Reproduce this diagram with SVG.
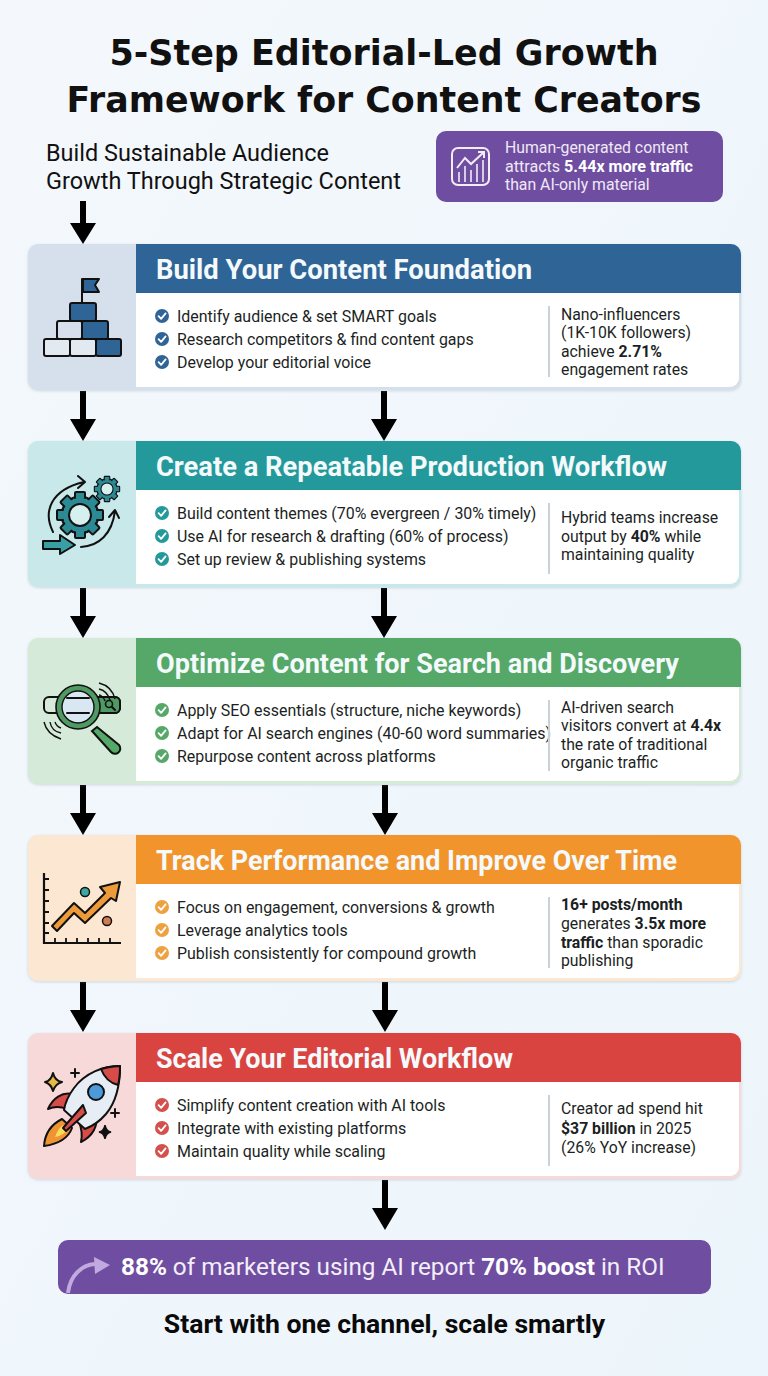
<svg xmlns="http://www.w3.org/2000/svg" width="768" height="1376" viewBox="0 0 768 1376">
<style>
text{font-family:Roboto,"Liberation Sans",sans-serif;fill:#1c1f24}
.title{font-family:"DejaVu Sans",sans-serif;font-weight:700;font-size:35px;fill:#111;text-anchor:middle}
.sub{font-size:24px;fill:#111}
.head{font-size:27.5px;font-weight:700;fill:#f4f9fb}
.b{font-size:15.95px}
.s{font-size:15.8px}
.bd{font-weight:700}
.pw{font-size:15.8px;fill:#f0e8f6}
.ln{fill:none;stroke:#111;stroke-width:2;stroke-linejoin:round;stroke-linecap:round}
.div{stroke:#c9d2d8;stroke-width:2}
.ck{fill:none;stroke:#fff;stroke-width:1.8;stroke-linecap:round;stroke-linejoin:round}
</style>
<defs>
<linearGradient id="bg" x1="0" y1="0" x2="1" y2="1"><stop offset="0" stop-color="#f4f8fc"/><stop offset="1" stop-color="#ecf5fb"/></linearGradient>
<path id="arrow" d="M-3 0H3V28H13L0 50L-13 28H-3Z" fill="#000"/>
<g id="check"><path class="ck" d="M-3.4 0.2L-0.9 2.8L3.6 -2.6"/></g>
<g id="tooth"><rect x="-5" y="-23" width="10" height="8" rx="1" fill="#2b8a94" stroke="#111" stroke-width="2"/></g>
<g id="gear">
<circle r="18.500" fill="#2b8a94" stroke="#111" stroke-width="2"/>
<use href="#tooth"/><use href="#tooth" transform="rotate(45)"/><use href="#tooth" transform="rotate(90)"/><use href="#tooth" transform="rotate(135)"/><use href="#tooth" transform="rotate(180)"/><use href="#tooth" transform="rotate(225)"/><use href="#tooth" transform="rotate(270)"/><use href="#tooth" transform="rotate(315)"/>
<circle r="17" fill="#2b8a94"/>
<circle r="11" fill="#d6efef" stroke="#111" stroke-width="2"/>
</g>
<filter id="sh" x="-3%" y="-5%" width="106%" height="112%"><feDropShadow dx="0" dy="1" stdDeviation="1.5" flood-color="#8a9aa8" flood-opacity=".35"/></filter>
</defs>
<rect width="768" height="1376" fill="url(#bg)"/>
<g id="title"><text class="title" x="384" y="65" textLength="549" lengthAdjust="spacingAndGlyphs">5-Step Editorial-Led Growth</text><text class="title" x="384" y="112" textLength="635" lengthAdjust="spacingAndGlyphs">Framework for Content Creators</text></g>
<g id="subtitle"><text class="sub" x="46" y="161" textLength="283" lengthAdjust="spacingAndGlyphs">Build Sustainable Audience</text><text class="sub" x="46" y="189" textLength="355" lengthAdjust="spacingAndGlyphs">Growth Through Strategic Content</text></g>
<g id="stat-callout">
<rect x="436" y="131" width="287" height="71" rx="10" fill="#6f4ea1"/>
<rect x="452" y="148" width="37" height="37" rx="6" fill="none" stroke="#f2ecf7" stroke-width="2"/>
<path d="M457 168L465 158L471 164L484 152M478 152H484V158" fill="none" stroke="#f2ecf7" stroke-width="2"/>
<path d="M459 182V172M465 182V166M471 182V170M477 182V164M483 182V160" fill="none" stroke="#f2ecf7" stroke-width="1.6"/>
<text class="pw" x="505" y="153" font-size="16">Human-generated content</text>
<text class="pw" x="505" y="172" textLength="188" lengthAdjust="spacingAndGlyphs">attracts <tspan class="bd" fill="#fff">5.44x more traffic</tspan></text>
<text class="pw" x="505" y="190">than AI-only material</text>
</g>
<g id="connectors">
<path d="M80 201H86V223H96L83 244L70 223H80Z" fill="#000"/>
<use href="#arrow" x="83" y="391"/><use href="#arrow" x="384" y="391"/>
<use href="#arrow" x="83" y="588"/><use href="#arrow" x="384" y="588"/>
<use href="#arrow" x="83" y="785"/><use href="#arrow" x="385" y="785"/>
<use href="#arrow" x="83" y="982"/><use href="#arrow" x="385" y="982"/>
<use href="#arrow" x="385" y="1180"/>
</g>

<g id="step1">
<rect x="28" y="244" width="713" height="146" rx="10" fill="#d6e0ec" filter="url(#sh)"/>
<path d="M136 293H739V378a9 9 0 0 1-9 9H136Z" fill="#fff"/>
<path d="M136 244H731a10 10 0 0 1 10 10V293H136Z" fill="#2f6496"/>
<text class="head" x="156" y="279" textLength="376" lengthAdjust="spacingAndGlyphs">Build Your Content Foundation</text>
<g fill="#2f6496"><circle cx="162" cy="316" r="7"/><circle cx="162" cy="339" r="7"/><circle cx="162" cy="362" r="7"/></g>
<use href="#check" x="162" y="316"/><use href="#check" x="162" y="339"/><use href="#check" x="162" y="362"/>
<text class="b" x="177" y="322">Identify audience &amp; set SMART goals</text>
<text class="b" x="177" y="345">Research competitors &amp; find content gaps</text>
<text class="b" x="177" y="368">Develop your editorial voice</text>
<line class="div" x1="549" y1="306" x2="549" y2="377"/>
<text class="s" x="561" y="320">Nano-influencers</text><text class="s" x="561" y="338">(1K-10K followers)</text>
<text class="s" x="561" y="357">achieve <tspan class="bd">2.71%</tspan></text><text class="s" x="561" y="375">engagement rates</text>
<g id="icon1">
<path class="ln" d="M82 303V279"/><path d="M83 279H99L95 285L99 292H83Z" fill="#2f6496" stroke="#111" stroke-width="2" stroke-linejoin="round"/>
<rect x="70" y="303" width="26" height="18" rx="2" fill="#2f6496" stroke="#111" stroke-width="2"/>
<rect x="57" y="321" width="25" height="18" rx="2" fill="#d5e0ec" stroke="#111" stroke-width="2"/>
<rect x="82" y="321" width="26" height="18" rx="2" fill="#2f6496" stroke="#111" stroke-width="2"/>
<rect x="44" y="339" width="26" height="17" rx="2" fill="#e2e9f1" stroke="#111" stroke-width="2"/>
<rect x="70" y="339" width="26" height="17" rx="2" fill="#e2e9f1" stroke="#111" stroke-width="2"/>
<rect x="96" y="339" width="25" height="17" rx="2" fill="#2f6496" stroke="#111" stroke-width="2"/>
</g>
</g>

<g id="step2">
<rect x="28" y="441" width="713" height="146" rx="10" fill="#c8e8ea" filter="url(#sh)"/>
<path d="M136 490H739V575a9 9 0 0 1-9 9H136Z" fill="#fff"/>
<path d="M136 441H731a10 10 0 0 1 10 10V490H136Z" fill="#24999b"/>
<text class="head" x="156" y="476" textLength="511" lengthAdjust="spacingAndGlyphs">Create a Repeatable Production Workflow</text>
<g fill="#24999b"><circle cx="162" cy="513" r="7"/><circle cx="162" cy="536" r="7"/><circle cx="162" cy="559" r="7"/></g>
<use href="#check" x="162" y="513"/><use href="#check" x="162" y="536"/><use href="#check" x="162" y="559"/>
<text class="b" x="177" y="519">Build content themes (70% evergreen / 30% timely)</text>
<text class="b" x="177" y="542">Use AI for research &amp; drafting (60% of process)</text>
<text class="b" x="177" y="565">Set up review &amp; publishing systems</text>
<line class="div" x1="549" y1="503" x2="549" y2="574"/>
<text class="s" x="561" y="523">Hybrid teams increase</text><text class="s" x="561" y="542">output by <tspan class="bd">40%</tspan> while</text><text class="s" x="561" y="560">maintaining quality</text>
<g id="icon2">
<use href="#gear" transform="translate(80 515)"/>
<use href="#gear" transform="translate(107 489) scale(.55)"/>
<path class="ln" d="M53 532C43 512 50 490 84 482M78 476L85 482L78 488"/>
<path class="ln" d="M81 547C99 546 112 534 115 511M109 517L115 510L119 518"/>
<path d="M43 541H60V535L75 545L60 554V549H43Z" fill="#3a9fa4" stroke="#111" stroke-width="2" stroke-linejoin="round"/>
</g>
</g>

<g id="step3">
<rect x="28" y="638" width="713" height="146" rx="10" fill="#d5ead8" filter="url(#sh)"/>
<path d="M136 687H739V772a9 9 0 0 1-9 9H136Z" fill="#fff"/>
<path d="M136 638H731a10 10 0 0 1 10 10V687H136Z" fill="#55a868"/>
<text class="head" x="156" y="673" textLength="523" lengthAdjust="spacingAndGlyphs">Optimize Content for Search and Discovery</text>
<g fill="#55a868"><circle cx="162" cy="710" r="7"/><circle cx="162" cy="733" r="7"/><circle cx="162" cy="756" r="7"/></g>
<use href="#check" x="162" y="710"/><use href="#check" x="162" y="733"/><use href="#check" x="162" y="756"/>
<text class="b" x="177" y="716">Apply SEO essentials (structure, niche keywords)</text>
<text class="b" x="177" y="739" textLength="374" lengthAdjust="spacingAndGlyphs">Adapt for AI search engines (40-60 word summaries)</text>
<text class="b" x="177" y="762">Repurpose content across platforms</text>
<line class="div" x1="549" y1="700" x2="549" y2="771"/>
<text class="s" x="561" y="713">AI-driven search</text><text class="s" x="561" y="731">visitors convert at <tspan class="bd">4.4x</tspan></text><text class="s" x="561" y="750">the rate of traditional</text><text class="s" x="561" y="768">organic traffic</text>
<g id="icon3">
<rect x="44" y="697" width="76" height="16" rx="5" fill="#d5ead8" stroke="#111" stroke-width="2"/>
<path d="M96 697H115a5 5 0 0 1 5 5V708a5 5 0 0 1-5 5H96Z" fill="#4f9a62" stroke="#111" stroke-width="2"/>
<circle cx="109" cy="704" r="3.500" fill="none" stroke="#111" stroke-width="1.600"/><path class="ln" d="M112 707L115 710"/>
<path d="M97 727L119 745a5 5 0 0 1-8 7L92 731Z" fill="#55a868" stroke="#111" stroke-width="2"/>
<circle cx="78" cy="707" r="19" fill="#d8e7f2" stroke="#4f9a62" stroke-width="6"/>
<circle cx="78" cy="707" r="22" fill="none" stroke="#111" stroke-width="1.600"/>
<circle cx="78" cy="707" r="16" fill="none" stroke="#111" stroke-width="1.400"/>
<path class="ln" d="M67 698H89M67 713H89"/>
<path d="M99 683C107 685 113 691 115 699M99 689C104 690 108 694 110 700M99 695C101 695 104 698 105 701" fill="none" stroke="#111" stroke-width="1.400"/>
<path d="M44 722C46 731 52 736 61 739M50 722C51 728 55 732 61 733M55 722C56 725 58 727 61 728" fill="none" stroke="#111" stroke-width="1.400"/>
</g>
</g>

<g id="step4">
<rect x="28" y="835" width="713" height="146" rx="10" fill="#fbe7d2" filter="url(#sh)"/>
<path d="M136 884H739V969a9 9 0 0 1-9 9H136Z" fill="#fff"/>
<path d="M136 835H731a10 10 0 0 1 10 10V884H136Z" fill="#f2942c"/>
<text class="head" x="156" y="870" textLength="521" lengthAdjust="spacingAndGlyphs">Track Performance and Improve Over Time</text>
<g fill="#eea13f"><circle cx="162" cy="907" r="7"/><circle cx="162" cy="930" r="7"/><circle cx="162" cy="953" r="7"/></g>
<use href="#check" x="162" y="907"/><use href="#check" x="162" y="930"/><use href="#check" x="162" y="953"/>
<text class="b" x="177" y="913">Focus on engagement, conversions &amp; growth</text>
<text class="b" x="177" y="936">Leverage analytics tools</text>
<text class="b" x="177" y="959">Publish consistently for compound growth</text>
<line class="div" x1="549" y1="897" x2="549" y2="968"/>
<text class="s" x="561" y="910"><tspan class="bd">16+ posts/month</tspan></text><text class="s" x="561" y="929">generates <tspan class="bd">3.5x more</tspan></text><text class="s" x="561" y="948"><tspan class="bd">traffic</tspan> than sporadic</text><text class="s" x="561" y="966">publishing</text>
<g id="icon4">
<path d="M44 873V943H121" fill="none" stroke="#111" stroke-width="2.200"/>
<path d="M44 879H49M44 890H49M44 901H49M44 912H49M44 923H49M44 933H49M55 943V938M66 943V938M77 943V938M88 943V938M99 943V938M110 943V938" stroke="#111" stroke-width="1.800"/>
<path d="M52 926L74 903L85 913L105 893L100 887L120 882L116 901L111 898L85 923L74 913L57 931Z" fill="#ed9a3a" stroke="#111" stroke-width="2" stroke-linejoin="round"/>
<circle cx="85" cy="892" r="4.500" fill="#3aa7a3" stroke="#111" stroke-width="1.500"/>
<circle cx="107" cy="921" r="4.500" fill="#d07c52" stroke="#111" stroke-width="1.500"/>
</g>
</g>

<g id="step5">
<rect x="28" y="1033" width="713" height="146" rx="10" fill="#f6d9d8" filter="url(#sh)"/>
<path d="M136 1082H739V1167a9 9 0 0 1-9 9H136Z" fill="#fff"/>
<path d="M136 1033H731a10 10 0 0 1 10 10V1082H136Z" fill="#d94441"/>
<text class="head" x="156" y="1068" textLength="357" lengthAdjust="spacingAndGlyphs">Scale Your Editorial Workflow</text>
<g fill="#d4504c"><circle cx="162" cy="1105" r="7"/><circle cx="162" cy="1128" r="7"/><circle cx="162" cy="1151" r="7"/></g>
<use href="#check" x="162" y="1105"/><use href="#check" x="162" y="1128"/><use href="#check" x="162" y="1151"/>
<text class="b" x="177" y="1111">Simplify content creation with AI tools</text>
<text class="b" x="177" y="1134">Integrate with existing platforms</text>
<text class="b" x="177" y="1157">Maintain quality while scaling</text>
<line class="div" x1="549" y1="1095" x2="549" y2="1166"/>
<text class="s" x="561" y="1114">Creator ad spend hit</text><text class="s" x="561" y="1134"><tspan class="bd">$37 billion</tspan> in 2025</text><text class="s" x="561" y="1153">(26% YoY increase)</text>
<g id="icon5">
<path d="M44 1146C45 1132 52 1124 62 1119L72 1128C68 1139 58 1144 44 1146Z" fill="#ee9433" stroke="#111" stroke-width="2" stroke-linejoin="round"/>
<path d="M55 1137C57 1131 60 1127 63 1125L68 1129C65 1133 61 1136 55 1137Z" fill="#f9dc5c"/>
<path d="M72 1094C62 1092 53 1098 48 1109C55 1106 62 1107 67 1109Z" fill="#d64c48" stroke="#111" stroke-width="2" stroke-linejoin="round"/>
<path d="M96 1116C98 1126 93 1136 81 1142C83 1133 81 1127 79 1122Z" fill="#d64c48" stroke="#111" stroke-width="2" stroke-linejoin="round"/>
<path d="M120 1066C103 1066 85 1073 74 1088C68 1096 65 1104 64 1110L85 1129C93 1126 100 1121 106 1114C117 1101 120 1084 120 1066Z" fill="#e6edf5" stroke="#111" stroke-width="2" stroke-linejoin="round"/>
<path d="M120 1066C112 1066 105 1068 101 1069C104 1077 110 1083 118 1085C120 1078 120 1072 120 1066Z" fill="#d64c48" stroke="#111" stroke-width="2" stroke-linejoin="round"/>
<circle cx="96" cy="1092" r="8" fill="#4a9bd8" stroke="#111" stroke-width="2"/>
<path d="M83 1105L63 1128L66 1131L86 1113Z" fill="#d64c48" stroke="#111" stroke-width="2" stroke-linejoin="round"/>
<path d="M53 1073Q55 1081 62 1082Q55 1084 53 1091Q51 1084 45 1082Q51 1081 53 1073Z" fill="#e5b84a" stroke="#111" stroke-width="2" stroke-linejoin="round"/>
<path d="M105 1125Q106 1131 111 1132Q106 1133 105 1139Q104 1133 99 1132Q104 1131 105 1125Z" fill="#111" stroke="#111" stroke-width="1.500"/>
<path class="ln" d="M75 1069V1077M71 1073H79M115 1109V1117M111 1113H119"/>
</g>
</g>

<g id="roi-banner">
<rect x="58" y="1240" width="653" height="54" rx="10" fill="#6f4ea1"/>
<path d="M68 1293C70 1275 82 1265 95 1264" fill="none" stroke="#c0aae0" stroke-width="4"/>
<path d="M94 1257L110 1265L95 1274Z" fill="#c0aae0"/>
<text x="121" y="1275" font-size="24.300" style="fill:#f3eef8"><tspan class="bd" fill="#fff">88%</tspan> of marketers using AI report <tspan class="bd" fill="#fff">70% boost</tspan> in ROI</text>
</g>
<g id="closing"><text x="384.500" y="1333" text-anchor="middle" font-size="26.600" font-weight="700" style="fill:#0a0a0a">Start with one channel, scale smartly</text></g>
</svg>
